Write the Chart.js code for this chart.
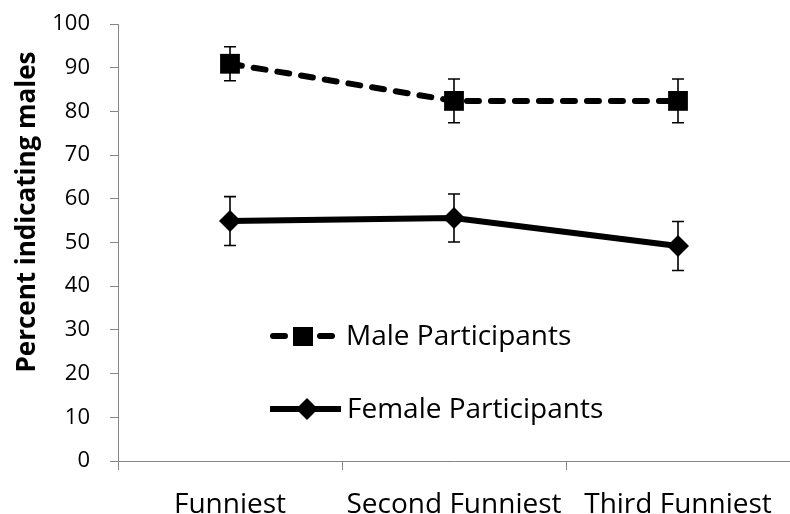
<!DOCTYPE html>
<html>
<head>
<meta charset="utf-8">
<script src="https://cdn.jsdelivr.net/npm/chart.js@4.4.1/dist/chart.umd.min.js"></script>
<style>
  body { margin: 0; background: #fff; }
  #wrap { width: 790px; height: 514px; }
</style>
</head>
<body>
<div id="wrap"><canvas id="funnyChart"></canvas></div>
<script>
var rankLabels = ['Funniest', 'Second Funniest', 'Third Funniest'];
var maleValues = [90.9, 82.4, 82.4];
var maleErrors = [3.9, 5.0, 5.0];
var femaleValues = [54.9, 55.6, 49.2];
var femaleErrors = [5.6, 5.5, 5.6];
var seriesNames = ['Male Participants', 'Female Participants'];
var axisTitle = 'Percent indicating males';

var fontName = '"Open Sans", sans-serif';
var axisGray = '#868686';

// vertical error bars with small caps, drawn under the markers
var errorBars = {
  id: 'errorBars',
  beforeDatasetsDraw: function(chart) {
    var ctx = chart.ctx;
    var yScale = chart.scales.y;
    var errs = [maleErrors, femaleErrors];
    ctx.save();
    ctx.strokeStyle = '#000';
    ctx.lineWidth = 1.6;
    chart.data.datasets.forEach(function(ds, i) {
      var meta = chart.getDatasetMeta(i);
      meta.data.forEach(function(pt, j) {
        var top = yScale.getPixelForValue(ds.data[j] + errs[i][j]);
        var bot = yScale.getPixelForValue(ds.data[j] - errs[i][j]);
        ctx.beginPath();
        ctx.moveTo(pt.x, top); ctx.lineTo(pt.x, bot);
        ctx.moveTo(pt.x - 6, top); ctx.lineTo(pt.x + 6, top);
        ctx.moveTo(pt.x - 6, bot); ctx.lineTo(pt.x + 6, bot);
        ctx.stroke();
      });
    });
    ctx.restore();
  }
};

// legend sitting inside the plot area, plus the rotated y title
var insideLegend = {
  id: 'insideLegend',
  afterDraw: function(chart) {
    var ctx = chart.ctx;
    ctx.save();
    ctx.fillStyle = '#000';
    ctx.strokeStyle = '#000';
    ctx.lineWidth = 6;

    // male row: dash, square, dash
    var y1 = 336;
    ctx.lineCap = 'round';
    ctx.beginPath();
    ctx.moveTo(273, y1); ctx.lineTo(285, y1);
    ctx.moveTo(320, y1); ctx.lineTo(332, y1);
    ctx.stroke();
    ctx.fillRect(293, y1 - 9, 20, 19);

    // female row: solid line with diamond
    var y2 = 409;
    ctx.lineCap = 'butt';
    ctx.beginPath();
    ctx.moveTo(270, y2); ctx.lineTo(341, y2);
    ctx.stroke();
    ctx.beginPath();
    ctx.moveTo(307, y2 - 11); ctx.lineTo(318, y2); ctx.lineTo(307, y2 + 11); ctx.lineTo(296, y2);
    ctx.closePath();
    ctx.fill();

    ctx.font = '28px ' + fontName;
    ctx.textBaseline = 'middle';
    ctx.textAlign = 'left';
    ctx.fillText(seriesNames[0], 346, y1 + 1);
    ctx.fillText(seriesNames[1], 347, y2 + 1);

    ctx.translate(35, 212);
    ctx.rotate(-Math.PI / 2);
    ctx.textAlign = 'center';
    ctx.textBaseline = 'alphabetic';
    ctx.font = 'bold 26px ' + fontName;
    ctx.fillText(axisTitle, 0, 0);
    ctx.restore();
  }
};

new Chart(document.getElementById('funnyChart'), {
  type: 'line',
  data: {
    labels: rankLabels,
    datasets: [
      {
        label: seriesNames[0],
        data: maleValues,
        borderColor: '#000',
        backgroundColor: '#000',
        borderWidth: 6,
        borderDash: [12, 12],
        borderCapStyle: 'round',
        pointStyle: 'rect',
        pointRadius: 14,
        pointBorderWidth: 0,
        tension: 0
      },
      {
        label: seriesNames[1],
        data: femaleValues,
        borderColor: '#000',
        backgroundColor: '#000',
        borderWidth: 6,
        pointStyle: 'rectRot',
        pointRadius: 11,
        pointBorderWidth: 0,
        tension: 0
      }
    ]
  },
  options: {
    responsive: true,
    maintainAspectRatio: false,
    animation: false,
    // the category axis runs a few pixels past the right edge
    layout: { autoPadding: false, padding: { left: 52, top: 24, right: -6, bottom: 0 } },
    plugins: { legend: { display: false }, tooltip: { enabled: false } },
    scales: {
      x: {
        offset: true,
        grid: { offset: true, drawOnChartArea: false, tickLength: 9, color: axisGray },
        border: { color: axisGray, width: 1 },
        ticks: { color: '#000', font: { family: fontName, size: 28 }, padding: 18, maxRotation: 0 },
        afterFit: function(scale) {
          scale.height = 53;
          scale.paddingLeft = 0;
          scale.paddingRight = -6;
        }
      },
      y: {
        min: 0,
        max: 100,
        ticks: { stepSize: 10, color: '#000', font: { family: fontName, size: 22 }, padding: 20 },
        grid: { drawOnChartArea: false, tickLength: 8, color: axisGray },
        border: { color: axisGray, width: 1 },
        afterFit: function(scale) {
          scale.width = 66;
          scale.paddingTop = 0;
          scale.paddingBottom = 0;
          scale.paddingRight = -6;
        }
      }
    }
  },
  plugins: [errorBars, insideLegend]
});
</script>
</body>
</html>
